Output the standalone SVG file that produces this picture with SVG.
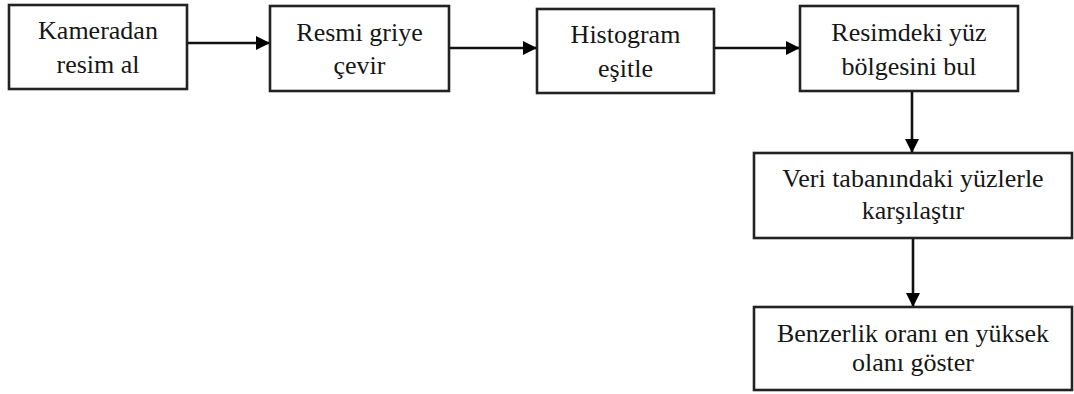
<svg xmlns="http://www.w3.org/2000/svg" width="1074" height="394" viewBox="0 0 1074 394">
<style>
.box{fill:#fff;stroke:#222;stroke-width:2.6}
.t{font-family:"Liberation Serif","Times New Roman",serif;font-size:26px;fill:#161616;text-anchor:middle}
.c{stroke:#111;stroke-width:2.6;fill:none}
</style>
<defs>
<marker id="ah" markerWidth="14" markerHeight="14" refX="13" refY="7" orient="auto" markerUnits="userSpaceOnUse">
<path d="M0,0 L14,7 L0,14 Z" fill="#000"/>
</marker>
</defs>
<rect width="1074" height="394" fill="#fff"/>
<g id="connectors">
<line class="c" x1="187" y1="43" x2="269" y2="43" marker-end="url(#ah)"/>
<line class="c" x1="449" y1="48" x2="536" y2="48" marker-end="url(#ah)"/>
<line class="c" x1="714" y1="48" x2="799" y2="48" marker-end="url(#ah)"/>
<line class="c" x1="912" y1="91" x2="912" y2="152" marker-end="url(#ah)"/>
<line class="c" x1="913" y1="238" x2="913" y2="306" marker-end="url(#ah)"/>
</g>
<g id="n1">
<rect class="box" x="9" y="5" width="178" height="84"/>
<text class="t" x="98" y="39">Kameradan</text>
<text class="t" x="98" y="73">resim al</text>
</g>
<g id="n2">
<rect class="box" x="270" y="6" width="179" height="85"/>
<text class="t" x="359.5" y="41">Resmi griye</text>
<text class="t" x="359.5" y="74">çevir</text>
</g>
<g id="n3">
<rect class="box" x="537" y="9" width="177" height="84"/>
<text class="t" x="625.5" y="43">Histogram</text>
<text class="t" x="625.5" y="77">eşitle</text>
</g>
<g id="n4">
<rect class="box" x="800" y="6" width="218" height="85"/>
<text class="t" x="909" y="41">Resimdeki yüz</text>
<text class="t" x="909" y="75">bölgesini bul</text>
</g>
<g id="n5">
<rect class="box" x="754" y="153" width="318" height="85"/>
<text class="t" x="913" y="187">Veri tabanındaki yüzlerle</text>
<text class="t" x="913" y="219">karşılaştır</text>
</g>
<g id="n6">
<rect class="box" x="754" y="307" width="318" height="83"/>
<text class="t" x="913" y="342">Benzerlik oranı en yüksek</text>
<text class="t" x="913" y="371">olanı göster</text>
</g>
</svg>
